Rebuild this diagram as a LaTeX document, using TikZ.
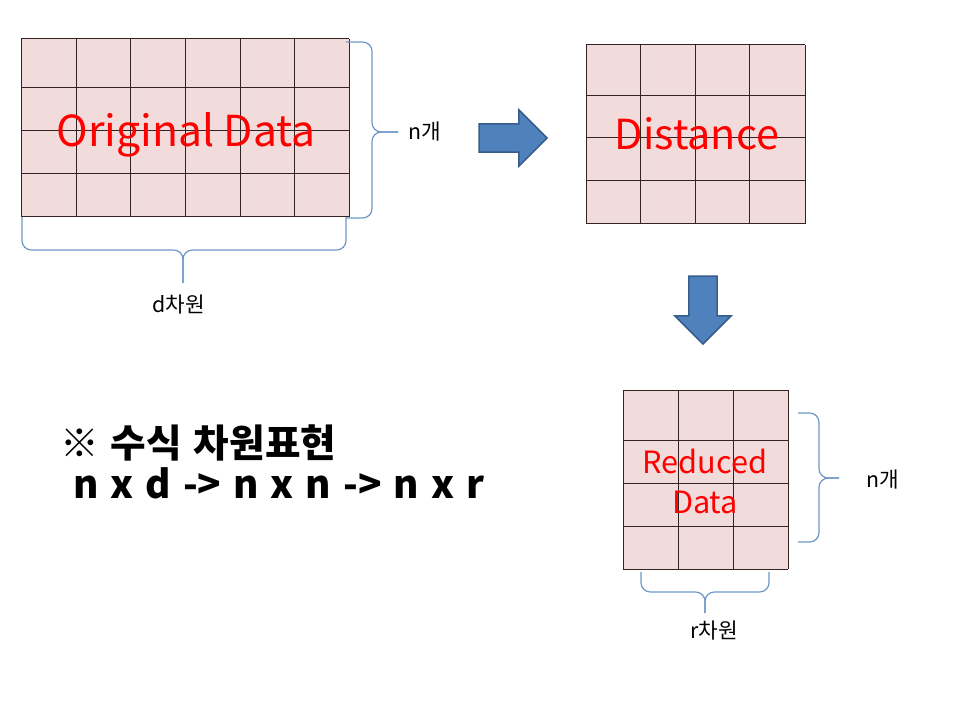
\documentclass[tikz,border=0pt]{standalone}
\usepackage{fontspec}
\setmainfont{Noto Sans CJK KR}
\newfontfamily\widefont[WordSpace=1.35]{Noto Sans CJK KR}
\usepackage{tikz}
\usetikzlibrary{shapes.arrows}
\definecolor{cellpink}{RGB}{242, 220, 219}
\definecolor{gridgray}{RGB}{50, 35, 35}
\definecolor{arrowblue}{RGB}{79, 129, 189}
\definecolor{arrowedge}{RGB}{56, 93, 138}
\definecolor{bracebrown}{RGB}{110, 150, 200}
\definecolor{labelred}{RGB}{255, 0, 0}

\begin{document}
\begin{tikzpicture}[
        x=0.75pt, y=-0.75pt,
        cellfill/.style={fill=cellpink},
        gridline/.style={draw=gridgray, line width=0.75pt},
        bracepath/.style={draw=bracebrown, line width=0.9pt, rounded corners=7pt},
        bigarrow/.style={single arrow, draw=arrowedge, line width=1.2pt, fill=arrowblue, minimum height=51pt, single arrow head extend=10.5pt, single arrow head indent=0pt, inner sep=0pt},
        redtext/.style={text=labelred, inner sep=0pt, anchor=base},
        dimtext/.style={text=black, inner sep=0pt, anchor=base, font=\fontsize{16}{19}\selectfont},
        notetext/.style={inner sep=0pt, anchor=base west, font=\widefont\fontsize{29}{35}\selectfont\bfseries}
    ]
    \useasboundingbox (0,0) rectangle (960,720);

    % Grids
    \fill[cellfill] (21,39) rectangle (349,217);
    \foreach \x in {21,76,130,185,240,294,349} \draw[gridline] (\x,39) -- (\x,217);
    \foreach \y in {39,88,131,174,217} \draw[gridline] (21,\y) -- (349,\y);

    \fill[cellfill] (586,45) rectangle (805,224);
    \foreach \x in {586,640,695,749,805} \draw[gridline] (\x,45) -- (\x,224);
    \foreach \y in {45,96,138,181,224} \draw[gridline] (586,\y) -- (805,\y);

    \fill[cellfill] (623,390) rectangle (788,569);
    \foreach \x in {623,678,733,788} \draw[gridline] (\x,390) -- (\x,569);
    \foreach \y in {390,440,483,526,569} \draw[gridline] (623,\y) -- (788,\y);

    % Grid labels
    \node[redtext, font=\fontsize{32}{38}\selectfont] (original) at (186,147) {Original Data};
    \node[redtext, font=\fontsize{31}{37}\selectfont] (distance) at (697,150) {Distance};
    \node[redtext, font=\fontsize{23}{28}\selectfont] (reduced) at (705,473) {Reduced};
    \node[redtext, font=\fontsize{23}{28}\selectfont] (reddata) at (705,513) {Data};

    % Braces
    \draw[bracepath] (346,42) -- (372,42) -- (372,132) -- (398,132);
    \draw[bracepath] (398,132) -- (372,132) -- (372,218) -- (346,218);
    \draw[bracepath] (22,217) -- (22,250) -- (183,250) -- (183,283);
    \draw[bracepath] (183,283) -- (183,250) -- (346,250) -- (346,217);
    \draw[bracepath] (798,413) -- (819,413) -- (819,478) -- (839,478);
    \draw[bracepath] (839,478) -- (819,478) -- (819,542) -- (798,542);
    \draw[bracepath] (641,572) -- (641,592) -- (705,592) -- (705,613);
    \draw[bracepath] (705,613) -- (705,592) -- (769,592) -- (769,572);

    % Brace labels
    \node[dimtext] (origrows) at (425,140) {n개};
    \node[dimtext] (origcols) at (179,312) {d차원};
    \node[dimtext] (redrows) at (883,487) {n개};
    \node[dimtext] (redcols) at (714,638) {r차원};

    % Arrows
    \node[bigarrow] (toright) at (506,138) {\rule{0pt}{20pt}};
    \node[bigarrow, rotate=-90] (todown) at (703,303) {\rule{0pt}{20pt}};

    % Notes
    \node[notetext] (notetitle) at (60,457) {※ 수식 차원표현};
    \node[notetext] (noteformula) at (73,498) {n x d -> n x n -> n x r};

\end{tikzpicture}
\end{document}
